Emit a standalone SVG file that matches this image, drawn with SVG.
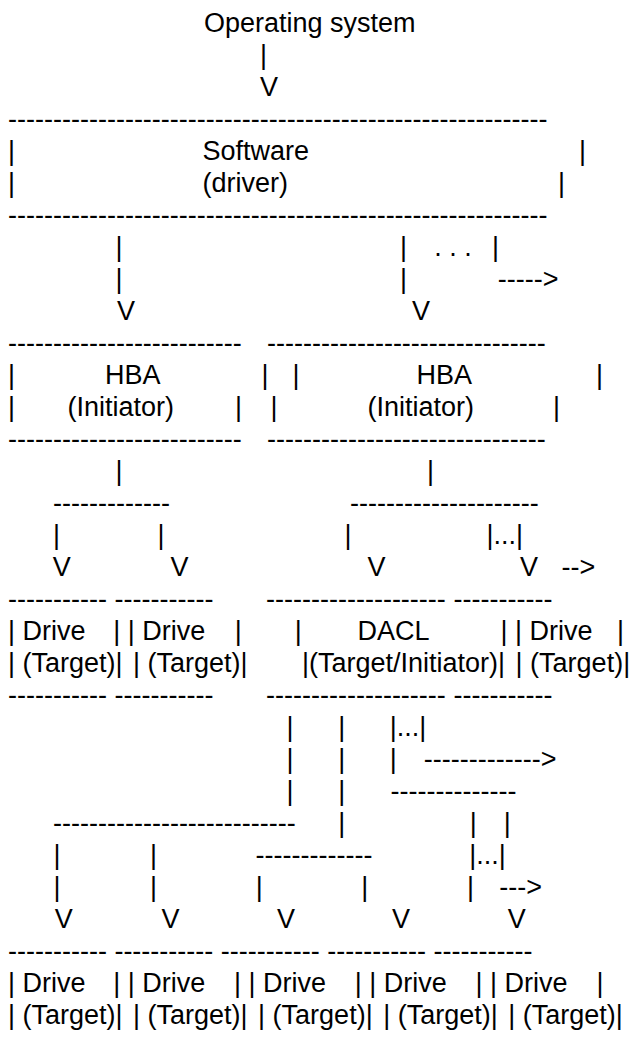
<svg xmlns="http://www.w3.org/2000/svg" width="637" height="1046" viewBox="0 0 637 1046" xml:space="preserve">
<style>
text { font-family: "Liberation Sans", Arial, Helvetica, sans-serif; font-size: 27px; fill: #000; white-space: pre; }
</style>
<rect width="637" height="1046" fill="#fff"/>
<g id="os"><text x="204" y="32">Operating system</text></g>
<g id="software">
<text x="8" y="128">------------------------------------------------------------</text>
<text x="8" y="160">|</text><text x="202.5" y="160">Software</text><text x="579" y="160">|</text>
<text x="8" y="192">|</text><text x="202.5" y="192">(driver)</text><text x="558" y="192">|</text>
<text x="8" y="224">------------------------------------------------------------</text>
</g>
<g id="hba1">
<text x="8" y="352">--------------------------</text>
<text x="8" y="384">|</text><text x="105" y="384">HBA</text><text x="261.5" y="384">|</text>
<text x="8" y="416">|</text><text x="67.5" y="416">(Initiator)</text><text x="235" y="416">|</text>
<text x="8" y="448">--------------------------</text>
</g>
<g id="hba2">
<text x="267" y="352">-------------------------------</text>
<text x="292.5" y="384">|</text><text x="416.5" y="384">HBA</text><text x="596" y="384">|</text>
<text x="270.5" y="416">|</text><text x="367.5" y="416">(Initiator)</text><text x="553" y="416">|</text>
<text x="267" y="448">-------------------------------</text>
</g>
<g id="drive1">
<text x="8" y="608">-----------</text>
<text x="8" y="640">| Drive</text><text x="113.2" y="640">|</text>
<text x="8" y="672">| (Target)|</text>
<text x="8" y="704">-----------</text>
</g>
<g id="drive2">
<text x="114.5" y="608">-----------</text>
<text x="127.7" y="640">| Drive</text><text x="234.8" y="640">|</text>
<text x="133.06" y="672">| (Target)|</text>
<text x="114.5" y="704">-----------</text>
</g>
<g id="dacl">
<text x="266" y="608">--------------------</text>
<text x="294.8" y="640">|</text><text x="357.5" y="640">DACL</text><text x="500.5" y="640">|</text>
<text x="302" y="672">|(Target/Initiator)|</text>
<text x="266" y="704">--------------------</text>
</g>
<g id="drive3">
<text x="453.5" y="608">-----------</text>
<text x="515" y="640">| Drive</text><text x="617" y="640">|</text>
<text x="515.6" y="672">| (Target)|</text>
<text x="453.5" y="704">-----------</text>
</g>
<g id="drive4">
<text x="8" y="960">-----------</text>
<text x="8" y="992">| Drive</text><text x="113.2" y="992">|</text>
<text x="8" y="1024">| (Target)|</text>
</g>
<g id="drive5">
<text x="114.4" y="960">-----------</text>
<text x="127.7" y="992">| Drive</text><text x="234" y="992">|</text>
<text x="133.06" y="1024">| (Target)|</text>
</g>
<g id="drive6">
<text x="220.8" y="960">-----------</text>
<text x="248.5" y="992">| Drive</text><text x="354.8" y="992">|</text>
<text x="258.1" y="1024">| (Target)|</text>
</g>
<g id="drive7">
<text x="327.2" y="960">-----------</text>
<text x="369.3" y="992">| Drive</text><text x="475.6" y="992">|</text>
<text x="383.2" y="1024">| (Target)|</text>
</g>
<g id="drive8">
<text x="433.6" y="960">-----------</text>
<text x="490.1" y="992">| Drive</text><text x="596.4" y="992">|</text>
<text x="508.2" y="1024">| (Target)|</text>
</g>
<g id="connectors">
<text x="260" y="64">|</text>
<text x="260" y="96">V</text>
<text x="115.5" y="256">|</text><text x="400" y="256">|</text><text x="434.3" y="256">. . .</text><text x="492" y="256">|</text>
<text x="115.5" y="288">|</text><text x="400" y="288">|</text><text x="497.7" y="288">-----&gt;</text>
<text x="117" y="320">V</text><text x="412" y="320">V</text>
<text x="115.5" y="480">|</text><text x="427" y="480">|</text>
<text x="53" y="512">-------------</text><text x="350" y="512">---------------------</text>
<text x="53" y="544">|</text><text x="157.5" y="544">|</text><text x="344.5" y="544">|</text><text x="486.5" y="544">|...|</text>
<text x="52.7" y="576">V</text><text x="170.5" y="576">V</text><text x="367.6" y="576">V</text><text x="519.9" y="576">V</text><text x="561.5" y="576">--&gt;</text>
<text x="286.5" y="736">|</text><text x="338.2" y="736">|</text><text x="389.8" y="736">|...|</text>
<text x="286.5" y="768">|</text><text x="338.2" y="768">|</text><text x="389.8" y="768">|</text><text x="423.8" y="768">-------------&gt;</text>
<text x="286.5" y="800">|</text><text x="338.2" y="800">|</text><text x="390.5" y="800">--------------</text>
<text x="53" y="832">---------------------------</text><text x="338.2" y="832">|</text><text x="469.8" y="832">|</text><text x="503.8" y="832">|</text>
<text x="53.4" y="864">|</text><text x="150.1" y="864">|</text><text x="255.5" y="864">-------------</text><text x="469.2" y="864">|...|</text>
<text x="53.4" y="896">|</text><text x="150.1" y="896">|</text><text x="255.7" y="896">|</text><text x="361.3" y="896">|</text><text x="466.9" y="896">|</text><text x="499.3" y="896">---&gt;</text>
<text x="54.7" y="928">V</text><text x="161.6" y="928">V</text><text x="276.9" y="928">V</text><text x="391.9" y="928">V</text><text x="507.7" y="928">V</text>
</g>
</svg>
